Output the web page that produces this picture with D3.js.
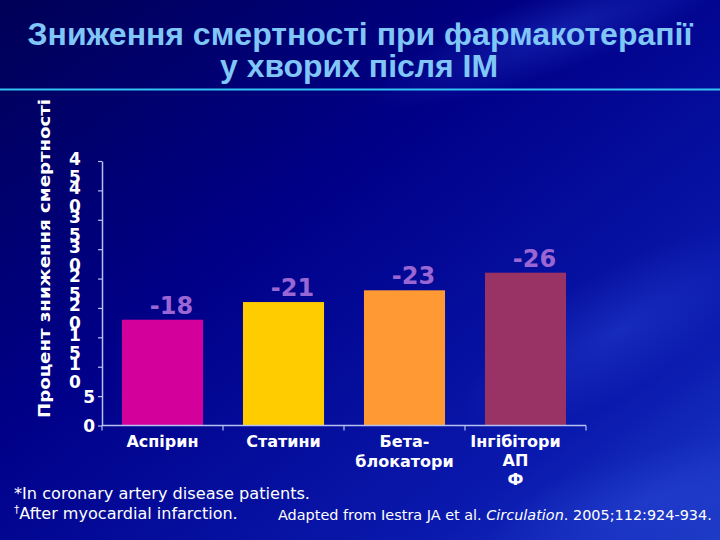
<!DOCTYPE html>
<html><head><meta charset="utf-8">
<script src="https://cdn.jsdelivr.net/npm/d3@7"></script>
<style>html,body{margin:0;padding:0;background:#000070;} svg{display:block}</style>
</head><body><svg id="c" width="720" height="540"></svg>
<script>
const categories = ["Аспірин","Статини","Бета-блокатори","Інгібітори АПФ"];
const categoryLines = [["Аспірин"],["Статини"],["Бета-","блокатори"],["Інгібітори","АП","Ф"]];
const values = [-18,-21,-23,-26];
const valueLabels = ["-18","-21","-23","-26"];
const barColors = ["#d4009c","#ffcc00","#ff9933","#993366"];
const yTicks = [0,5,10,15,20,25,30,35,40,45];
const yTickLabels = ["0","5","10","15","20","25","30","35","40","45"];
const titleLines = ["Зниження смертності при фармакотерапії","у хворих після ІМ"];
const yTitle = "Процент зниження смертності";
const footnote1 = "*In coronary artery disease patients.";
const footnote2 = "After myocardial infarction.";
const sourceParts = ["Adapted from Iestra JA et al. ","Circulation",". 2005;112:924-934."];

const W = 720, H = 540;
const svg = d3.select("#c");
const defs = svg.append("defs");
const g1 = defs.append("linearGradient").attr("id","bg").attr("x1","0").attr("y1","0").attr("x2","1").attr("y2","1");
g1.append("stop").attr("offset","0").attr("stop-color","#000056");
g1.append("stop").attr("offset","0.4").attr("stop-color","#000088");
g1.append("stop").attr("offset","0.8").attr("stop-color","#0a1aae");
g1.append("stop").attr("offset","1").attr("stop-color","#1e3cc8");
svg.append("rect").attr("width",W).attr("height",H).attr("fill","url(#bg)");
// soft streaks
const g2 = defs.append("radialGradient").attr("id","hl").attr("cx","0.5").attr("cy","0.5").attr("r","0.5");
g2.append("stop").attr("offset","0").attr("stop-color","#3050e0").attr("stop-opacity",0.35);
g2.append("stop").attr("offset","1").attr("stop-color","#3050e0").attr("stop-opacity",0);
svg.append("ellipse").attr("cx",620).attr("cy",330).attr("rx",180).attr("ry",60).attr("transform","rotate(-30,620,330)").attr("fill","url(#hl)");
svg.append("ellipse").attr("cx",560).attr("cy",30).attr("rx",200).attr("ry",40).attr("transform","rotate(-20,560,30)").attr("fill","url(#hl)");
svg.append("ellipse").attr("cx",650).attr("cy",500).attr("rx",160).attr("ry",50).attr("transform","rotate(-15,650,500)").attr("fill","url(#hl)");

// title
const tFont = "'Liberation Sans', Arial, sans-serif";
const title = svg.append("g").attr("font-family",tFont).attr("font-weight","bold").attr("fill","#80c6f6").attr("text-anchor","middle");
title.append("text").attr("x",360).attr("y",44.5).attr("font-size",31).attr("textLength",665).attr("lengthAdjust","spacingAndGlyphs").text(titleLines[0]);
title.append("text").attr("x",359).attr("y",77).attr("font-size",31).attr("textLength",278).attr("lengthAdjust","spacingAndGlyphs").text(titleLines[1]);
svg.append("line").attr("x1",0).attr("x2",W).attr("y1",89.5).attr("y2",89.5).attr("stroke","#33c4f4").attr("stroke-width",2.2);

// scales
const x = d3.scaleBand().domain(categories).range([102,586]).paddingInner(0.33).paddingOuter(0.165);
const y = d3.scaleLinear().domain([0,45]).range([425.5,161]);
const axisColor = "#b8c0f0";
const vFont = "'DejaVu Sans', Verdana, sans-serif";

// bars
svg.append("g").selectAll("rect").data(values).join("rect")
  .attr("x",(d,i)=>x(categories[i]))
  .attr("width",x.bandwidth())
  .attr("y",d=>y(Math.abs(d)))
  .attr("height",d=>y(0)-y(Math.abs(d)))
  .attr("fill",(d,i)=>barColors[i]);

// value labels
svg.append("g").selectAll("text").data(values).join("text")
  .attr("x",(d,i)=>x(categories[i])+x.bandwidth()/2+9)
  .attr("y",d=>y(Math.abs(d))-6)
  .attr("text-anchor","middle")
  .attr("font-family",vFont).attr("font-weight","bold").attr("font-size",24)
  .attr("fill","#9a66d4")
  .text((d,i)=>valueLabels[i]);

// y axis
const yAxis = svg.append("g").attr("transform","translate(102,0)")
  .call(d3.axisLeft(y).tickValues(yTicks).tickSize(4).tickSizeOuter(0).tickFormat((d,i)=>yTickLabels[i]));
yAxis.select(".domain").attr("stroke",axisColor).attr("stroke-width",1.5);
yAxis.selectAll(".tick line").attr("stroke",axisColor).attr("stroke-width",1.2);
yAxis.selectAll(".tick text").each(function(d,i){
  const t = d3.select(this);
  const s = yTickLabels[i];
  t.text(null).attr("font-family",vFont).attr("font-weight","bold").attr("font-size",17).attr("fill","#ffffff");
  if (s.length === 1) {
    t.attr("x",-7).attr("dy","0.36em").attr("text-anchor","end").text(s);
  } else {
    t.attr("text-anchor","middle").attr("dy",null).attr("y",0);
    t.append("tspan").attr("x",-27).attr("y",3).text(s[0]);
    t.append("tspan").attr("x",-27).attr("y",21).text(s[1]);
  }
});

// x axis
const xAxis = svg.append("g").attr("transform",`translate(0,${y(0)})`);
xAxis.append("line").attr("x1",x.range()[0]).attr("x2",x.range()[1]).attr("stroke",axisColor).attr("stroke-width",1.5);
const bounds = d3.range(categories.length+1).map(i=>x.range()[0]+i*x.step());
xAxis.selectAll("line.tk").data(bounds).join("line").attr("class","tk")
  .attr("x1",d=>d).attr("x2",d=>d).attr("y1",0).attr("y2",5).attr("stroke",axisColor).attr("stroke-width",1.2);

// category labels
const cl = svg.append("g").attr("font-family",vFont).attr("font-weight","bold").attr("font-size",16).attr("fill","#ffffff").attr("text-anchor","middle");
categoryLines.forEach((lines,i)=>{
  const cx = x(categories[i])+x.bandwidth()/2 - (lines.length>2 ? 10 : 0);
  const t = cl.append("text");
  lines.forEach((ln,j)=>{
    t.append("tspan").attr("x",cx).attr("y",446.5 + j*(lines.length>2?19:20)).text(ln);
  });
});

// y title
svg.append("text").attr("transform","translate(50,258.5) rotate(-90)")
  .attr("text-anchor","middle").attr("font-family",vFont).attr("font-weight","bold").attr("font-size",15.5)
  .attr("fill","#ffffff").attr("textLength",319).attr("lengthAdjust","spacingAndGlyphs").text(yTitle);

// footnotes
const fFont = "'DejaVu Sans Condensed','DejaVu Sans', Tahoma, sans-serif";
svg.append("text").attr("x",14).attr("y",499).attr("font-family",fFont).attr("font-size",15).attr("fill","#ffffff")
  .attr("textLength",296).attr("lengthAdjust","spacingAndGlyphs").text(footnote1);
const f2 = svg.append("text").attr("x",14).attr("y",519).attr("font-family",fFont).attr("font-size",15).attr("fill","#ffffff");
f2.append("tspan").attr("font-size",10).attr("dy",-6).text("†");
f2.append("tspan").attr("dy",6).text(footnote2);
const src = svg.append("text").attr("x",278).attr("y",520).attr("font-family",fFont).attr("font-size",14).attr("fill","#ffffff");
src.append("tspan").text(sourceParts[0]);
src.append("tspan").attr("font-style","italic").text(sourceParts[1]);
src.append("tspan").text(sourceParts[2]);
// fit widths
(function(){
  const w2 = f2.node().getComputedTextLength(); if (w2>0){ const k=224/w2; f2.attr("transform",`translate(14,0) scale(${k},1) translate(-14,0)`); }
  const ws = src.node().getComputedTextLength(); if (ws>0){ const k=434/ws; src.attr("transform",`translate(278,0) scale(${k},1) translate(-278,0)`); }
})();
</script></body></html>
